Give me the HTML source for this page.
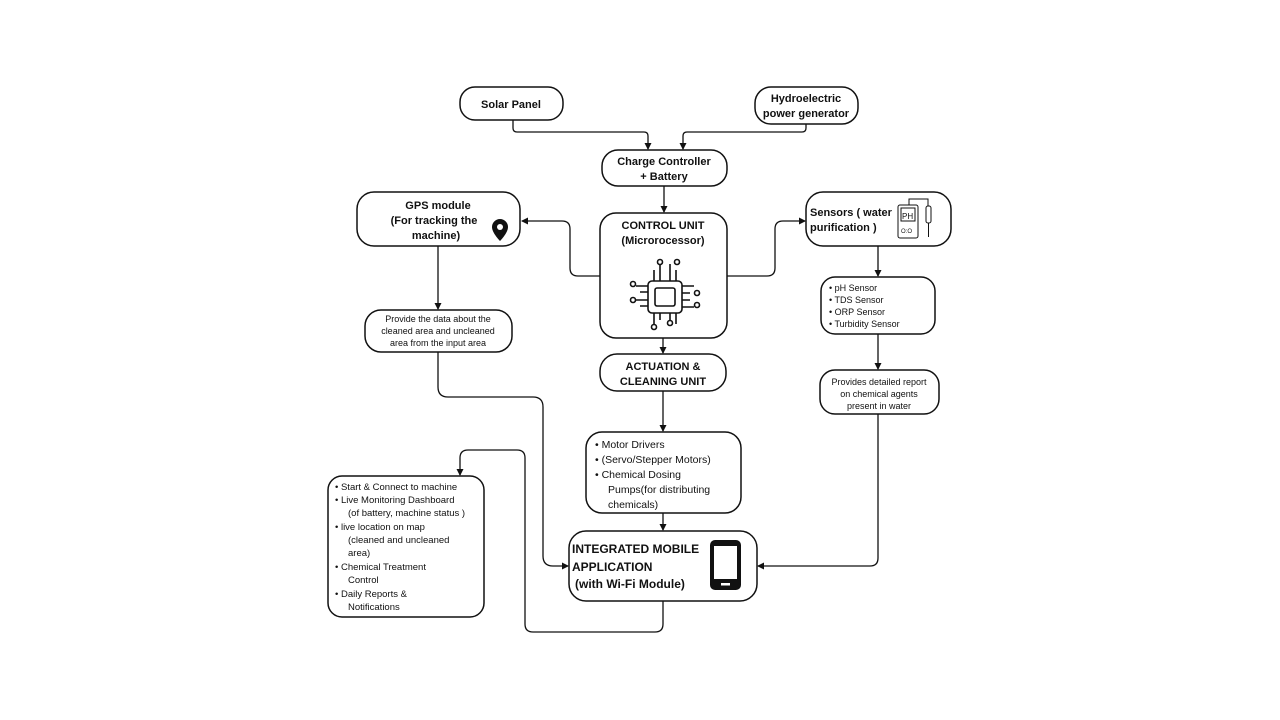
<!DOCTYPE html>
<html><head><meta charset="utf-8"><style>
html,body{margin:0;padding:0;background:#fff}
svg{display:block}
text{font-family:"Liberation Sans",sans-serif;fill:#111}
.b{font-weight:bold;font-size:11px}
.s{font-size:9px}
.m{font-size:10.5px}
</style></head><body>
<svg width="1280" height="720" viewBox="0 0 1280 720" xmlns="http://www.w3.org/2000/svg">
<defs><marker id="a" markerWidth="8" markerHeight="8" refX="6" refY="4" orient="auto" markerUnits="userSpaceOnUse"><path d="M0,0.5 L7,4 L0,7.5 z" fill="#111"/></marker></defs>
<g fill="none" stroke="#111" stroke-width="1.5">
<rect x="460" y="87" width="103" height="33" rx="15"/>
<rect x="755" y="87" width="103" height="37" rx="16"/>
<rect x="602" y="150" width="125" height="36" rx="16"/>
<rect x="357" y="192" width="163" height="54" rx="17"/>
<rect x="600" y="213" width="127" height="125" rx="16"/>
<rect x="806" y="192" width="145" height="54" rx="17"/>
<rect x="365" y="310" width="147" height="42" rx="16"/>
<rect x="821" y="277" width="114" height="57" rx="14"/>
<rect x="600" y="354" width="126" height="37" rx="17"/>
<rect x="820" y="370" width="119" height="44" rx="15"/>
<rect x="586" y="432" width="155" height="81" rx="16"/>
<rect x="569" y="531" width="188" height="70" rx="17"/>
<rect x="328" y="476" width="156" height="141" rx="14"/>
</g>
<g fill="none" stroke="#111" stroke-width="1.3">
<path d="M513,120 V128 Q513,132 517,132 H644 Q648,132 648,136 V149" marker-end="url(#a)"/>
<path d="M806,124 V128 Q806,132 802,132 H687 Q683,132 683,136 V149" marker-end="url(#a)"/>
<path d="M664,186 V212" marker-end="url(#a)"/>
<path d="M600,276 H578 Q570,276 570,268 V229 Q570,221 562,221 H522" marker-end="url(#a)"/>
<path d="M727,276 H767 Q775,276 775,268 V229 Q775,221 783,221 H805" marker-end="url(#a)"/>
<path d="M438,246 V309" marker-end="url(#a)"/>
<path d="M878,246 V276" marker-end="url(#a)"/>
<path d="M438,352 V387 Q438,397 448,397 H533 Q543,397 543,407 V556 Q543,566 553,566 H568" marker-end="url(#a)"/>
<path d="M663,338 V353" marker-end="url(#a)"/>
<path d="M663,391 V431" marker-end="url(#a)"/>
<path d="M663,513 V530" marker-end="url(#a)"/>
<path d="M878,334 V369" marker-end="url(#a)"/>
<path d="M878,414 V558 Q878,566 870,566 H758" marker-end="url(#a)"/>
<path d="M663,601 V624 Q663,632 655,632 H533 Q525,632 525,624 V458 Q525,450 517,450 H468 Q460,450 460,458 V475" marker-end="url(#a)"/>
</g>
<!-- chip -->
<g fill="none" stroke="#111" stroke-width="1.6">
<rect x="648" y="281" width="34" height="32" rx="4"/>
<rect x="655" y="288" width="20" height="18" rx="2"/>
<path d="M654,281 V270 M660,281 V264 M670,281 V264 M676,281 V270"/>
<path d="M654,313 V324 M660,313 V320 M670,313 V320 M676,313 V324"/>
<path d="M648,286 H636 M648,292 H640 M648,300 H636 M648,306 H640"/>
<path d="M682,286 H694 M682,293 H690 M682,300 H690 M682,307 H694"/>
<circle cx="660" cy="262" r="2.5"/><circle cx="677" cy="262" r="2.5"/>
<circle cx="654" cy="327" r="2.5"/><circle cx="670" cy="323" r="2.5"/>
<circle cx="633" cy="284" r="2.5"/><circle cx="633" cy="300" r="2.5"/>
<circle cx="697" cy="293" r="2.5"/><circle cx="697" cy="305" r="2.5"/>
</g>
<!-- gps pin -->
<path d="M500,219 a8,8 0 0 1 8,8 c0,6 -8,14 -8,14 c0,0 -8,-8 -8,-14 a8,8 0 0 1 8,-8z" fill="#111"/>
<circle cx="500" cy="227" r="3" fill="#fff"/>
<!-- ph meter -->
<g fill="none" stroke="#111" stroke-width="1">
<rect x="898" y="205" width="20" height="33" rx="2"/>
<rect x="901" y="208" width="14" height="13"/>
<path d="M909,205 V199 H928 V206"/>
<rect x="926" y="206" width="5" height="17" rx="2"/>
<path d="M928.5,223 V237"/>
</g>
<text x="902" y="219" style="font-size:8px">PH</text>
<text x="901" y="233" style="font-size:6px">O:O</text>
<!-- phone -->
<rect x="710" y="540" width="31" height="50" rx="5" fill="#111"/>
<rect x="714" y="546" width="23" height="33" fill="#fff"/>
<rect x="721" y="583" width="9" height="2.5" fill="#fff"/>
<!-- text -->
<text class="b" x="511" y="108" text-anchor="middle">Solar Panel</text>
<text class="b" x="806" y="102" text-anchor="middle">Hydroelectric</text>
<text class="b" x="806" y="117" text-anchor="middle">power generator</text>
<text class="b" x="664" y="165" text-anchor="middle">Charge Controller</text>
<text class="b" x="664" y="180" text-anchor="middle">+ Battery</text>
<text class="b" x="438" y="209" text-anchor="middle">GPS module</text>
<text class="b" x="434" y="224" text-anchor="middle">(For tracking the</text>
<text class="b" x="436" y="239" text-anchor="middle">machine)</text>
<text class="b" x="663" y="229" text-anchor="middle">CONTROL UNIT</text>
<text class="b" x="663" y="244" text-anchor="middle">(Microrocessor)</text>
<text class="b" x="810" y="216">Sensors ( water</text>
<text class="b" x="810" y="231">purification )</text>
<text class="s" x="438" y="322" text-anchor="middle">Provide the data  about the</text>
<text class="s" x="438" y="334" text-anchor="middle">cleaned area and uncleaned</text>
<text class="s" x="438" y="346" text-anchor="middle">area from the input area</text>
<text class="s" x="829" y="291">•  pH Sensor</text>
<text class="s" x="829" y="303">•  TDS Sensor</text>
<text class="s" x="829" y="315">•  ORP Sensor</text>
<text class="s" x="829" y="327">•  Turbidity Sensor</text>
<text class="b" x="663" y="370" text-anchor="middle">ACTUATION &amp;</text>
<text class="b" x="663" y="385" text-anchor="middle">CLEANING UNIT</text>
<text class="s" x="879" y="385" text-anchor="middle">Provides detailed report</text>
<text class="s" x="879" y="397" text-anchor="middle">on chemical agents</text>
<text class="s" x="879" y="409" text-anchor="middle">present in water</text>
<text class="m" x="595" y="448">•  Motor Drivers</text>
<text class="m" x="595" y="463">•  (Servo/Stepper Motors)</text>
<text class="m" x="595" y="478">•  Chemical Dosing</text>
<text class="m" x="608" y="493">Pumps(for distributing</text>
<text class="m" x="608" y="508">chemicals)</text>
<text class="b" x="572" y="553" style="font-size:12px">INTEGRATED MOBILE</text>
<text class="b" x="572" y="571" style="font-size:12px">APPLICATION</text>
<text class="b" x="575" y="588" style="font-size:12px">(with Wi-Fi Module)</text>
<g class="s" style="font-size:9.5px">
<text x="335" y="490">•  Start &amp; Connect to machine</text>
<text x="335" y="503">•  Live Monitoring Dashboard</text>
<text x="348" y="516">(of battery, machine status )</text>
<text x="335" y="530">•  live location on map</text>
<text x="348" y="543">(cleaned and uncleaned</text>
<text x="348" y="556">area)</text>
<text x="335" y="570">•  Chemical Treatment</text>
<text x="348" y="583">Control</text>
<text x="335" y="597">•  Daily Reports &amp;</text>
<text x="348" y="610">Notifications</text>
</g>
</svg>
</body></html>
